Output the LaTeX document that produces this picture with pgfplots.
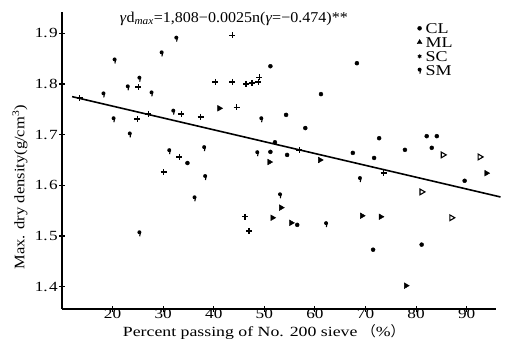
\documentclass[border=0pt]{standalone}
\usepackage{fontspec}
\setmainfont{Liberation Serif}
\newfontfamily\tickfont[FakeStretch=1.23]{Liberation Serif}
\newfontfamily\xlfont[FakeStretch=1.27]{Liberation Serif}
\newfontfamily\ylfont[FakeStretch=1.14]{Liberation Serif}
\newfontfamily\ttlfont[FakeStretch=1.07]{Liberation Serif}
\newfontfamily\legfont[FakeStretch=1.2]{Liberation Serif}
\newfontfamily\cjk{Noto Sans CJK JP}
\usepackage{pgfplots}
\pgfplotsset{compat=1.18}
\pgfdeclareplotmark{drop}{%
  \pgfpathcircle{\pgfpoint{0pt}{0.7pt}}{2pt}\pgfusepathqfill
  \pgfsetlinewidth{1.1pt}%
  \pgfpathmoveto{\pgfpoint{0.9pt}{0pt}}\pgfpathlineto{\pgfpoint{0.3pt}{-3.3pt}}\pgfusepathqstroke}
\begin{document}
\begin{tikzpicture}
\begin{axis}[
  scale only axis, width=434pt, height=297pt,
  xmin=10, xmax=95.8, ymin=1.356, ymax=1.942,
  clip=false,
  axis x line=bottom, axis y line=left,
  axis line style={-, line width=1.4pt},
  xtick={20,30,...,90}, ytick={1.4,1.5,1.6,1.7,1.8,1.9},
  yticklabels={1.\kern1.5pt4,1.\kern1.5pt5,1.\kern1.5pt6,1.\kern1.5pt7,1.\kern1.5pt8,1.\kern1.5pt9},
  tick align=center, major tick length=6pt,
  tick style={line width=1.1pt, black},
  /pgf/number format/assume math mode=true,
  ticklabel style={font=\tickfont\fontsize{14}{15}\selectfont, inner sep=1pt},
  xticklabel style={text height=10pt, text depth=0pt, yshift=5pt},
  xlabel={Percent passing of No. 200 sieve {\cjk（}\%{\cjk）}},
  ylabel={Max. dry density(g/cm\textsuperscript{3})},
  xlabel style={at={(axis description cs:0.465,-0.0825)}, anchor=center, inner sep=1pt,
    text height=10pt, text depth=3pt, font=\xlfont\fontsize{14}{15}\selectfont},
  ylabel style={at={(axis description cs:-0.0968,0.41)}, anchor=center, inner sep=1pt,
    font=\ylfont\fontsize{14.5}{15}\selectfont},
  title={\textit{γ}d\textsubscript{\textit{max}}=1,808−0.0025n(\textit{γ}=−0.474)**},
  title style={at={(0.396,1.0)}, anchor=center, inner sep=1pt, yshift=-13pt, font=\ttlfont\fontsize{15}{16}\selectfont},
  legend style={at={(0.811,0.976)}, anchor=north west, draw=none, fill=none,
    font=\legfont\fontsize{15}{12}\selectfont,
    nodes={inner sep=1.5pt, text height=11pt, text depth=0pt},
    row sep=0pt, column sep=2pt},
  legend image code/.code={\draw[#1] plot coordinates {(0pt,0pt)};},
  legend cell align=left,
]
\addplot[line width=1.6pt, black, forget plot] coordinates {(12,1.775) (96.7,1.577)};
% CL
\addplot[only marks, mark=*, mark size=2pt, black] coordinates {
(61.2,1.780) (68.3,1.841) (54.3,1.739) (58.1,1.713) (52.1,1.685) (51.2,1.666)
(54.5,1.660) (67.5,1.664) (72.7,1.693) (71.7,1.654) (77.8,1.670) (82.1,1.697)
(84.1,1.697) (83.1,1.674) (89.6,1.609) (71.5,1.473) (81.1,1.483) (56.5,1.522)
(51.2,1.835) (34.8,1.644)};
\addlegendentry{CL}
% ML
\addplot[only marks, mark=triangle*, mark size=3.3pt, black,
  every mark/.append style={rotate=-90},
  legend image post style={every mark/.append style={rotate=90}, mark size=2.8pt}] coordinates {
(51.0,1.646) (61.0,1.650) (53.3,1.556) (51.6,1.536) (55.3,1.526) (69.3,1.540)
(73.0,1.538) (93.9,1.624) (78.0,1.402) (41.1,1.752)};
\addlegendentry{ML}
% SC
\addplot[only marks, mark=+, mark size=3pt, line width=1.4pt, black,
  legend image post style={mark=asterisk, mark size=2pt, line width=1pt}] coordinates {
(25.1,1.794) (13.5,1.772) (27.1,1.741) (33.6,1.741) (37.4,1.735) (24.9,1.731)
(33.2,1.656) (30.1,1.626) (43.7,1.896) (40.3,1.804) (43.7,1.804) (46.4,1.800)
(47.6,1.802) (49.0,1.813) (48.8,1.804) (44.5,1.754) (56.9,1.670) (73.6,1.624)
(46.2,1.538) (47.0,1.510)};
\addlegendentry{SC}
% SM
\addplot[only marks, mark=drop, black] coordinates {
(32.6,1.890) (29.7,1.861) (20.4,1.847) (25.3,1.811) (23.0,1.794) (27.7,1.782)
(18.2,1.780) (32.0,1.746) (20.2,1.731) (23.4,1.701) (31.2,1.668) (38.1,1.674)
(38.3,1.617) (36.2,1.575) (25.3,1.506) (49.4,1.731) (48.6,1.664) (68.9,1.613)
(53.1,1.581) (62.2,1.524)};
\addlegendentry{SM}
% open triangles
\addplot[only marks, mark=triangle, mark size=3.3pt, line width=1.1pt, black,
  every mark/.append style={rotate=-90}, forget plot] coordinates {
(85.3,1.660) (92.6,1.656) (81.1,1.587) (87.0,1.536)};
\path[draw=none] ([xshift=-62pt,yshift=-40pt]rel axis cs:0,0) rectangle ([xshift=10pt,yshift=12pt]rel axis cs:1,1);
\end{axis}
\end{tikzpicture}
\end{document}
